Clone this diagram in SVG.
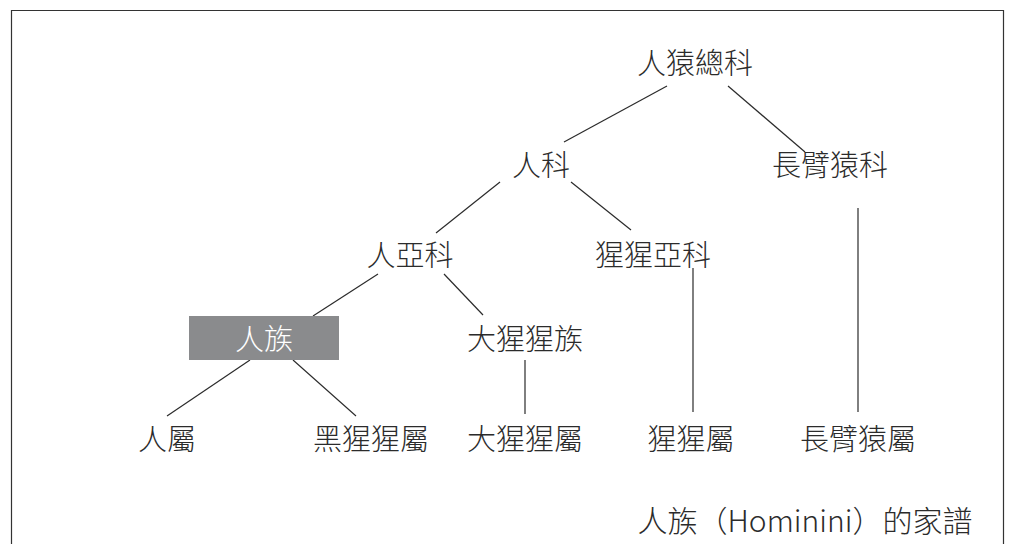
<svg xmlns="http://www.w3.org/2000/svg" width="1014" height="544" viewBox="0 0 1014 544">
<style>
.t{font-family:"Noto Sans CJK TC","Noto Sans CJK SC",sans-serif;font-size:29px;font-weight:300;fill:#2b2b2b;text-anchor:middle;dominant-baseline:central}
.w{fill:#ffffff}
.c line{stroke:#2b2b2b;stroke-width:1.2}
</style>
<rect x="0" y="0" width="1014" height="544" fill="#ffffff"/>
<path d="M11.5 544 V10.5 H1003.5 V544" fill="none" stroke="#333" stroke-width="1.2"/>
<g class="c" id="connectors">
<line x1="667" y1="86" x2="564" y2="142"/>
<line x1="728" y1="86" x2="805" y2="152"/>
<line x1="500" y1="182" x2="436" y2="233"/>
<line x1="571" y1="182" x2="631" y2="230"/>
<line x1="378" y1="274" x2="313" y2="316"/>
<line x1="444" y1="274" x2="483" y2="315"/>
<line x1="250" y1="360" x2="167" y2="416"/>
<line x1="293" y1="360" x2="356" y2="416"/>
<line x1="525" y1="360" x2="525" y2="414"/>
<line x1="693" y1="268" x2="693" y2="412"/>
<line x1="858" y1="208" x2="858" y2="412"/>
</g>
<g id="n1"><text class="t" x="695" y="61">人猿總科</text></g>
<g id="n2"><text class="t" x="541" y="163">人科</text></g>
<g id="n3"><text class="t" x="830" y="163">長臂猿科</text></g>
<g id="n4"><text class="t" x="410" y="253">人亞科</text></g>
<g id="n5"><text class="t" x="653" y="253">猩猩亞科</text></g>
<g id="n6"><rect x="189" y="316" width="150" height="44" fill="#8a8b8d"/><text class="t w" x="264" y="337">人族</text></g>
<g id="n7"><text class="t" x="525" y="337">大猩猩族</text></g>
<g id="n8"><text class="t" x="167" y="437">人屬</text></g>
<g id="n9"><text class="t" x="371" y="437">黑猩猩屬</text></g>
<g id="n10"><text class="t" x="525" y="437">大猩猩屬</text></g>
<g id="n11"><text class="t" x="691" y="437">猩猩屬</text></g>
<g id="n12"><text class="t" x="858" y="437">長臂猿屬</text></g>
<g id="title"><text class="t" x="805" y="519" style="font-size:30px">人族（Hominini）的家譜</text></g>
</svg>
